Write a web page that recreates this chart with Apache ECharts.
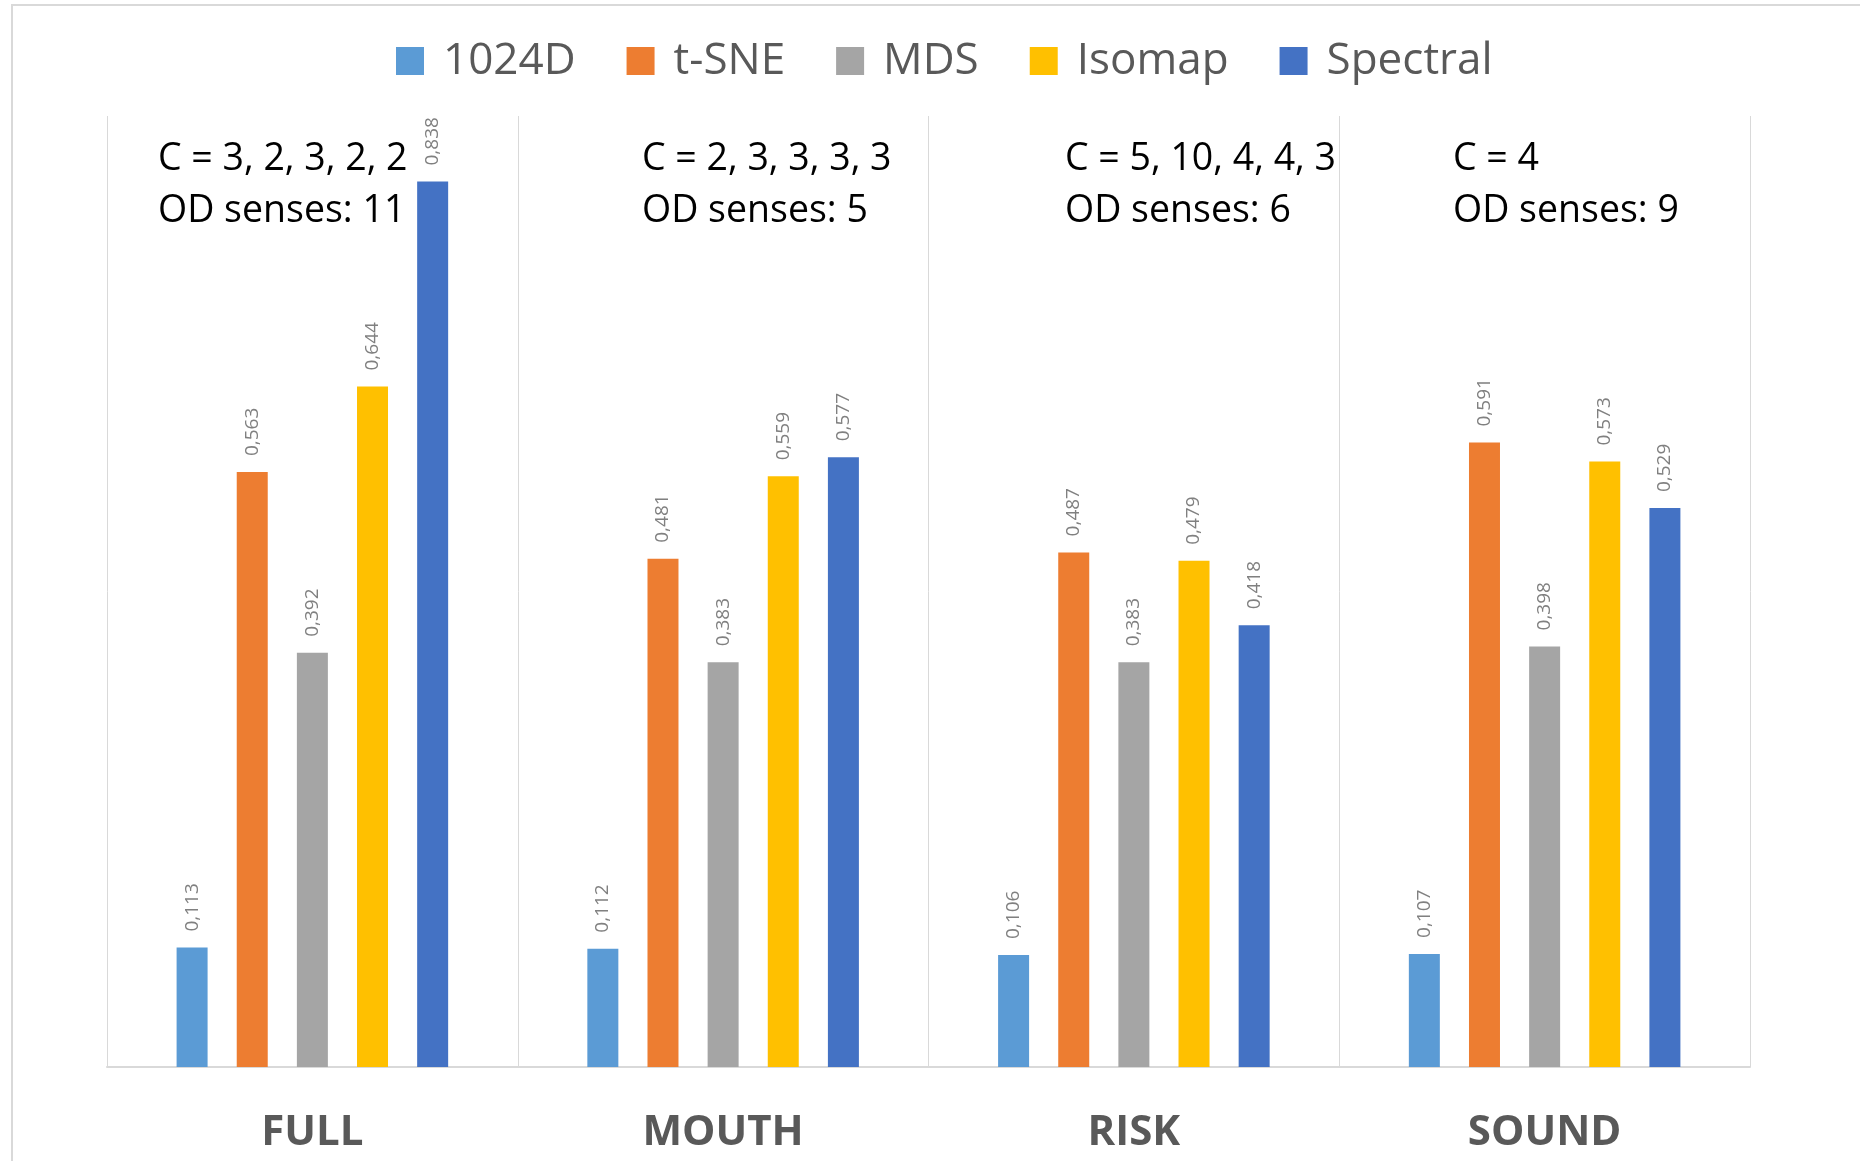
<!DOCTYPE html>
<html>
<head>
<meta charset="utf-8">
<title>Clustering scores by word</title>
<script src="https://cdn.jsdelivr.net/npm/echarts@6/dist/echarts.min.js"></script>
<style>
  html, body { margin: 0; padding: 0; background: #ffffff; }
  #chart { width: 1860px; height: 1161px; }
</style>
</head>
<body>
<div id="chart"></div>
<script>
// Words (categories) along the x axis
const words = ['FULL', 'MOUTH', 'RISK', 'SOUND'];

// Methods (series) and their scores per word
const methods = ['1024D', 't-SNE', 'MDS', 'Isomap', 'Spectral'];
const score1024D   = [0.113, 0.112, 0.106, 0.107];
const scoreTSNE    = [0.563, 0.481, 0.487, 0.591];
const scoreMDS     = [0.392, 0.383, 0.383, 0.398];
const scoreIsomap  = [0.644, 0.559, 0.479, 0.573];
const scoreSpectral = [0.838, 0.577, 0.418, 0.529];

// Per-word notes: number of clusters per method and OD sense count
const clusterCounts = ['3, 2, 3, 2, 2', '2, 3, 3, 3, 3', '5, 10, 4, 4, 3', '4'];
const odSenses = [11, 5, 6, 9];

const colors = ['#5B9BD5', '#ED7D31', '#A5A5A5', '#FFC000', '#4472C4'];
const seriesValues = [score1024D, scoreTSNE, scoreMDS, scoreIsomap, scoreSpectral];

// Plot area geometry
const grid = { left: 107, right: 110, top: 116, bottom: 94 };
const noteLeft = [158, 642, 1065, 1453];
const noteTop = 133;

const chart = echarts.init(document.getElementById('chart'), null, { renderer: 'canvas' });

const series = methods.map((name, i) => ({
  name: name,
  type: 'bar',
  data: seriesValues[i],
  barWidth: 31,
  barGap: '94%',
  itemStyle: { color: colors[i] },
  label: {
    show: true,
    position: 'top',
    distance: 16,
    rotate: 90,
    align: 'left',
    verticalAlign: 'middle',
    color: '#808080',
    fontFamily: '"Open Sans", sans-serif',
    fontSize: 19,
    formatter: p => p.value.toFixed(3).replace('.', ',')
  }
}));

const notes = words.map((w, i) => ({
  type: 'text',
  left: noteLeft[i],
  top: noteTop,
  style: {
    text: 'C = ' + clusterCounts[i] + '\nOD senses: ' + odSenses[i],
    fill: '#000000',
    fontFamily: '"Open Sans", sans-serif',
    fontSize: 37.5,
    lineHeight: 52
  }
}));

// Thin frame around the chart area
notes.push({
  type: 'rect',
  shape: { x: 12, y: 5, width: 1900, height: 1200 },
  style: { fill: 'none', stroke: '#d9d9d9', lineWidth: 2 },
  silent: true
});

chart.setOption({
  animation: false,
  backgroundColor: '#ffffff',
  legend: {
    data: methods,
    left: 391,
    top: 34,
    icon: 'rect',
    itemWidth: 28,
    itemHeight: 28,
    itemGap: 51,
    textStyle: {
      color: '#595959',
      fontFamily: '"Open Sans", sans-serif',
      fontSize: 44,
      padding: [0, 0, 0, 14]
    }
  },
  grid: grid,
  xAxis: {
    type: 'category',
    data: words,
    axisLine: { show: true, lineStyle: { color: '#d9d9d9', width: 2 } },
    axisTick: { show: false },
    splitLine: { show: true, lineStyle: { color: '#d9d9d9', width: 1 } },
    axisLabel: {
      color: '#595959',
      fontFamily: '"Open Sans", sans-serif',
      fontWeight: 'bold',
      fontSize: 42,
      margin: 66,
      verticalAlign: 'middle'
    }
  },
  yAxis: {
    type: 'value',
    min: 0,
    max: 0.9,
    show: false,
    splitLine: { show: false }
  },
  graphic: notes,
  series: series
});
</script>
</body>
</html>
